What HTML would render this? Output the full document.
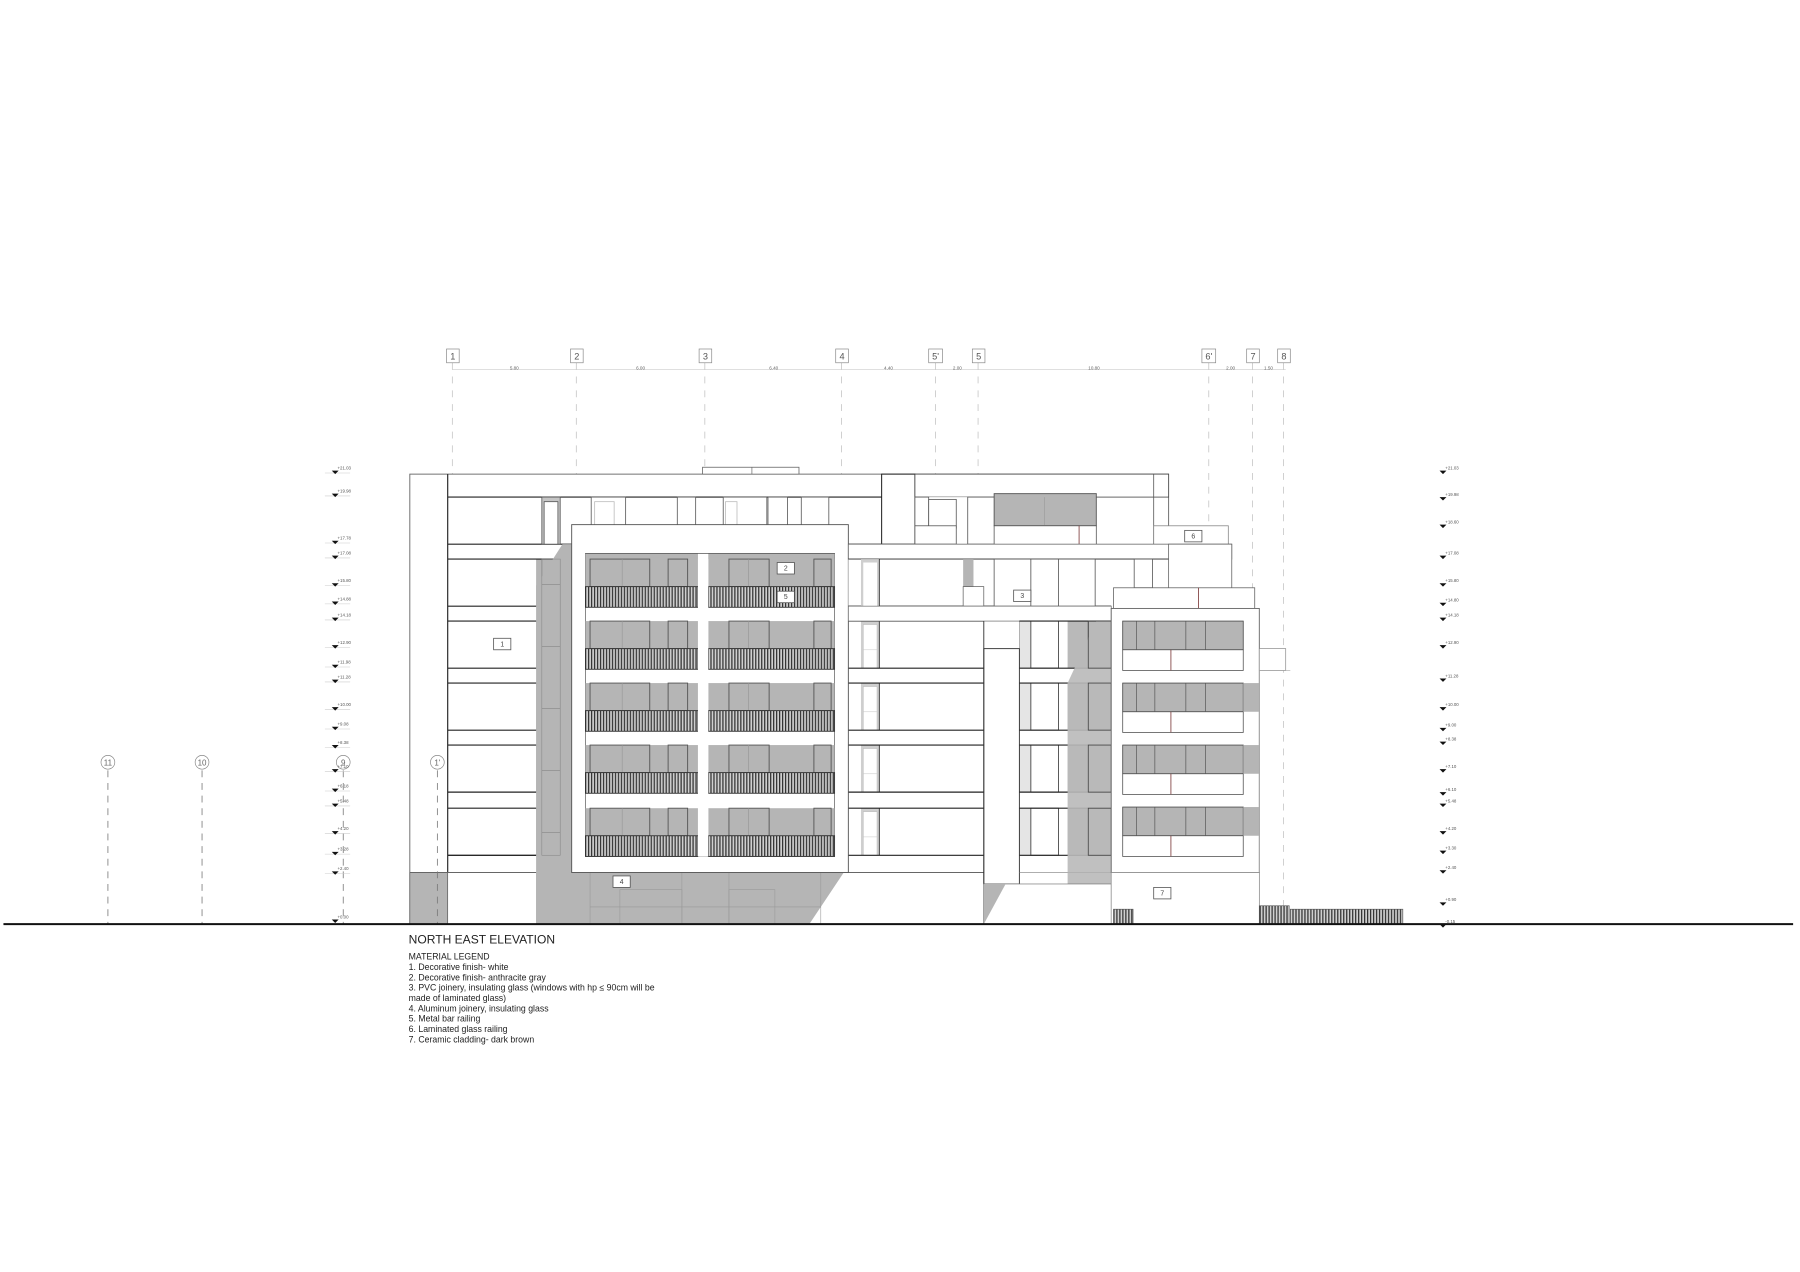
<!DOCTYPE html>
<html><head><meta charset="utf-8"><style>
html,body{margin:0;padding:0;background:#fff;}
svg{display:block;}
text{font-family:"Liberation Sans",sans-serif;}
</style></head><body>
<svg width="1800" height="1272" viewBox="0 0 1568 1108" preserveAspectRatio="none" xmlns="http://www.w3.org/2000/svg">
<defs>
<pattern id="hatch" width="2.6" height="10" patternUnits="userSpaceOnUse">
<rect width="2.6" height="10" fill="#cfcfcf"/><rect width="1.1" height="10" fill="#333"/>
</pattern>
<g id="crow">
<rect x="510" y="0" width="217" height="42" fill="#b5b5b5"/>
<rect x="608" y="0" width="9" height="42" fill="#fff"/>
<rect x="514" y="0" width="52" height="24" fill="none" stroke="#555" stroke-width="0.8"/>
<line x1="542" y1="0" x2="542" y2="24" stroke="#999" stroke-width="0.6"/>
<rect x="582" y="0" width="17" height="24" fill="none" stroke="#555" stroke-width="0.8"/>
<rect x="635" y="0" width="35" height="24" fill="none" stroke="#555" stroke-width="0.8"/>
<line x1="652" y1="0" x2="652" y2="24" stroke="#999" stroke-width="0.6"/>
<rect x="709" y="0" width="15" height="24" fill="none" stroke="#555" stroke-width="0.8"/>
<rect x="510" y="24" width="98" height="18" fill="url(#hatch)" stroke="#333" stroke-width="0.8"/>
<rect x="617" y="24" width="110" height="18" fill="url(#hatch)" stroke="#333" stroke-width="0.8"/>
</g>
<g id="lrow">
<rect x="467" y="0" width="31" height="41" fill="#b5b5b5"/>
<rect x="472" y="0" width="16" height="41" fill="none" stroke="#777" stroke-width="0.6"/>
<line x1="472" y1="20" x2="488" y2="20" stroke="#888" stroke-width="0.5"/>
<line x1="390" y1="0" x2="498" y2="0" stroke="#222" stroke-width="1"/>
<line x1="390" y1="41" x2="498" y2="41" stroke="#222" stroke-width="1"/>
<rect x="750" y="0" width="16" height="41" fill="#cfcfcf"/>
<rect x="752" y="3" width="12" height="38" fill="#fff" stroke="#bbb" stroke-width="0.5"/>
<line x1="752" y1="25" x2="764" y2="25" stroke="#ccc" stroke-width="0.5"/>
<line x1="766" y1="0" x2="766" y2="41" stroke="#333" stroke-width="0.8"/>
<line x1="739" y1="0" x2="857" y2="0" stroke="#222" stroke-width="1"/>
<line x1="739" y1="41" x2="857" y2="41" stroke="#222" stroke-width="1"/>
</g>
<g id="rrow">
<rect x="888" y="0" width="80" height="41" fill="#fff"/>
<rect x="930" y="0" width="38" height="41" fill="#b9b9b9"/>
<rect x="888" y="0" width="10" height="41" fill="#e5e5e5" stroke="#888" stroke-width="0.5"/>
<rect x="898" y="0" width="24" height="41" fill="#fff" stroke="#333" stroke-width="0.7"/>
<rect x="948" y="0" width="20" height="41" fill="none" stroke="#444" stroke-width="0.7"/>
<line x1="888" y1="0" x2="968" y2="0" stroke="#222" stroke-width="1"/>
<line x1="888" y1="41" x2="968" y2="41" stroke="#222" stroke-width="1"/>
</g>
<g id="brow">
<rect x="978" y="0" width="105" height="25" fill="#b5b5b5" stroke="#444" stroke-width="0.7"/>
<line x1="990" y1="0" x2="990" y2="25" stroke="#555" stroke-width="0.6"/>
<line x1="1006" y1="0" x2="1006" y2="25" stroke="#555" stroke-width="0.6"/>
<line x1="1033" y1="0" x2="1033" y2="25" stroke="#555" stroke-width="0.6"/>
<line x1="1050" y1="0" x2="1050" y2="25" stroke="#555" stroke-width="0.6"/>
<rect x="978" y="25" width="105" height="18" fill="#fff" stroke="#555" stroke-width="0.7"/>
<line x1="1020" y1="25" x2="1020" y2="43" stroke="#733" stroke-width="0.7"/>
</g>
</defs>

<rect width="1568" height="1108" fill="#fff"/>

<g stroke="#bbb" stroke-width="0.6" stroke-dasharray="6,6">
<line x1="394" y1="316" x2="394" y2="805"/><line x1="502" y1="316" x2="502" y2="805"/>
<line x1="614" y1="316" x2="614" y2="805"/><line x1="733" y1="316" x2="733" y2="805"/>
<line x1="815" y1="316" x2="815" y2="805"/><line x1="852" y1="316" x2="852" y2="805"/>
<line x1="1053" y1="316" x2="1053" y2="805"/><line x1="1091" y1="316" x2="1091" y2="805"/>
<line x1="1118" y1="316" x2="1118" y2="805"/>
</g>
<g stroke="#777" stroke-width="0.7" stroke-dasharray="6,5">
<line x1="94" y1="671" x2="94" y2="805"/><line x1="176" y1="671" x2="176" y2="805"/>
<line x1="299" y1="671" x2="299" y2="805"/>
</g>
<line x1="394" y1="322" x2="1120" y2="322" stroke="#ccc" stroke-width="0.5"/>
<g font-size="4" fill="#666" text-anchor="middle">
<text x="448" y="322">5.80</text><text x="558" y="322">6.00</text><text x="674" y="322">6.40</text>
<text x="774" y="322">4.40</text><text x="834" y="322">2.00</text><text x="953" y="322">10.80</text>
<text x="1072" y="322">2.00</text><text x="1105" y="322">1.50</text>
</g>
<g font-size="8" fill="#555" text-anchor="middle" stroke="#888" stroke-width="0.6">
<rect x="389" y="304" width="11" height="12" fill="#fff"/><rect x="497" y="304" width="11" height="12" fill="#fff"/>
<rect x="609" y="304" width="11" height="12" fill="#fff"/><rect x="728" y="304" width="11" height="12" fill="#fff"/>
<rect x="809" y="304" width="12" height="12" fill="#fff"/><rect x="847" y="304" width="11" height="12" fill="#fff"/>
<rect x="1047" y="304" width="12" height="12" fill="#fff"/><rect x="1086" y="304" width="11" height="12" fill="#fff"/>
<rect x="1113" y="304" width="11" height="12" fill="#fff"/>
</g>
<g font-size="8" fill="#555" text-anchor="middle">
<text x="394.5" y="313">1</text><text x="502.5" y="313">2</text><text x="614.5" y="313">3</text><text x="733.5" y="313">4</text>
<text x="815" y="313">5'</text><text x="852.5" y="313">5</text><text x="1053" y="313">6'</text><text x="1091.5" y="313">7</text><text x="1118.5" y="313">8</text>
</g>
<g fill="#fff" stroke="#888" stroke-width="0.6">
<circle cx="94" cy="664" r="6"/><circle cx="176" cy="664" r="6"/><circle cx="299" cy="664" r="6"/>
</g>
<g font-size="7" fill="#666" text-anchor="middle">
<text x="94" y="667">11</text><text x="176" y="667">10</text><text x="299" y="667">9</text>
</g>

<rect x="357" y="413" width="661" height="392" fill="#fff" stroke="#666" stroke-width="0.8"/>
<rect x="612" y="407" width="84" height="6" fill="#fff" stroke="#666" stroke-width="0.7"/>
<line x1="655" y1="407" x2="655" y2="413" stroke="#666" stroke-width="0.6"/>
<line x1="390" y1="413" x2="390" y2="760" stroke="#222" stroke-width="1"/>
<rect x="357" y="760" width="33" height="45" fill="#b5b5b5" stroke="#555" stroke-width="0.6"/>
<line x1="357" y1="760" x2="1097" y2="760" stroke="#666" stroke-width="0.8"/>

<line x1="390" y1="433" x2="768" y2="433" stroke="#222" stroke-width="1"/>
<line x1="390" y1="474" x2="768" y2="474" stroke="#222" stroke-width="1"/>
<rect x="768" y="413" width="29" height="61" fill="#fff" stroke="#222" stroke-width="0.9"/>
<g stroke="#555" stroke-width="0.7">
<rect x="472" y="433" width="16" height="41" fill="#c5c5c5"/><rect x="474" y="437" width="12" height="37" fill="#fff"/>
<rect x="515" y="433" width="30" height="41" fill="#fff"/><rect x="518" y="437" width="17" height="25" fill="#fff" stroke="#bbb"/>
<rect x="590" y="433" width="16" height="41" fill="#fff"/>
<rect x="630" y="433" width="38" height="41" fill="#fff"/><rect x="632" y="437" width="10" height="25" fill="#fff" stroke="#bbb"/>
<rect x="669" y="433" width="17" height="41" fill="#fff"/>
<rect x="698" y="433" width="24" height="41" fill="#fff"/>
</g>

<use href="#lrow" y="487"/><use href="#lrow" y="541"/><use href="#lrow" y="595"/><use href="#lrow" y="649"/><use href="#lrow" y="704"/>
<line x1="390" y1="745" x2="498" y2="745" stroke="#222" stroke-width="1"/>
<polygon points="467,760 467,510 490,474 498,474 498,805 467,805" fill="#b5b5b5"/>
<rect x="472" y="487" width="16" height="258" fill="none" stroke="#888" stroke-width="0.5"/>
<line x1="472" y1="509" x2="488" y2="509" stroke="#888" stroke-width="0.5"/>
<line x1="472" y1="563" x2="488" y2="563" stroke="#888" stroke-width="0.5"/>
<line x1="472" y1="617" x2="488" y2="617" stroke="#888" stroke-width="0.5"/>
<line x1="472" y1="671" x2="488" y2="671" stroke="#888" stroke-width="0.5"/>
<line x1="472" y1="725" x2="488" y2="725" stroke="#888" stroke-width="0.5"/>

<polygon points="467,760 735,760 705,805 467,805" fill="#b5b5b5"/>
<g stroke="#999" stroke-width="0.5" fill="none">
<rect x="514" y="760" width="80" height="45"/><rect x="540" y="775" width="54" height="30"/>
<rect x="635" y="760" width="80" height="45"/><rect x="635" y="775" width="40" height="30"/>
<line x1="514" y1="790" x2="715" y2="790"/>
</g>

<rect x="498" y="457" width="241" height="303" fill="#fff" stroke="#555" stroke-width="0.8"/>
<rect x="510" y="482" width="217" height="264" fill="#fff" stroke="#555" stroke-width="0.6"/>
<rect x="510" y="482" width="217" height="29" fill="#b5b5b5"/>
<use href="#crow" y="487"/>
<use href="#crow" y="541"/><use href="#crow" y="595"/><use href="#crow" y="649"/><use href="#crow" y="704"/>
<rect x="608" y="482" width="9" height="264" fill="#fff"/>
<line x1="510" y1="482" x2="727" y2="482" stroke="#555" stroke-width="0.7"/>

<rect x="797" y="413" width="221" height="20" fill="#fff" stroke="#444" stroke-width="0.7"/>
<line x1="1005" y1="413" x2="1005" y2="474" stroke="#555" stroke-width="0.7"/>
<rect x="797" y="433" width="70" height="41" fill="#fff"/>
<g stroke="#555" stroke-width="0.7" fill="#fff">
<rect x="797" y="433" width="12" height="41"/>
<rect x="809" y="435" width="24" height="25"/>
<rect x="797" y="458" width="36" height="16"/>
<rect x="843" y="433" width="24" height="41"/>
</g>
<rect x="866" y="430" width="89" height="28" fill="#b5b5b5" stroke="#555" stroke-width="0.8"/>
<line x1="910" y1="433" x2="910" y2="458" stroke="#999" stroke-width="0.5"/>
<rect x="866" y="458" width="89" height="18" fill="#fff" stroke="#555" stroke-width="0.7"/>
<line x1="940" y1="458" x2="940" y2="476" stroke="#733" stroke-width="0.7"/>
<rect x="1005" y="458" width="65" height="18" fill="#fff" stroke="#888" stroke-width="0.7"/>
<rect x="739" y="474" width="334" height="13" fill="#fff" stroke="#666" stroke-width="0.7"/>
<rect x="739" y="487" width="334" height="41" fill="#fff"/>
<line x1="739" y1="487" x2="1073" y2="487" stroke="#333" stroke-width="0.8"/>
<line x1="739" y1="528" x2="968" y2="528" stroke="#222" stroke-width="1"/>
<rect x="750" y="487" width="16" height="41" fill="#cfcfcf"/><rect x="752" y="490" width="12" height="38" fill="#fff"/>
<line x1="766" y1="487" x2="766" y2="528" stroke="#333" stroke-width="0.8"/>
<rect x="839" y="487" width="9" height="25" fill="#b5b5b5"/>
<rect x="839" y="511" width="18" height="17" fill="#fff" stroke="#555" stroke-width="0.6"/>
<g stroke="#555" stroke-width="0.7" fill="#fff">
<rect x="866" y="487" width="32" height="41"/><rect x="898" y="487" width="24" height="41"/>
<rect x="922" y="487" width="32" height="41"/><rect x="988" y="487" width="16" height="25"/>
</g>
<rect x="1018" y="474" width="55" height="54" fill="#fff" stroke="#666" stroke-width="0.7"/>
<rect x="739" y="528" width="229" height="13" fill="#fff" stroke="#666" stroke-width="0.6"/>
<rect x="888" y="541" width="80" height="219" fill="#fff"/>
<use href="#rrow" y="541"/><use href="#rrow" y="595"/><use href="#rrow" y="649"/><use href="#rrow" y="704"/>
<polygon points="930,595 955,541 968,541 968,770 930,770" fill="#b9b9b9" opacity="0.9"/>
<g stroke="#444" stroke-width="0.7" fill="none">
<rect x="948" y="541" width="20" height="41"/><rect x="948" y="595" width="20" height="41"/>
<rect x="948" y="649" width="20" height="41"/><rect x="948" y="704" width="20" height="41"/>
</g>
<rect x="857" y="565" width="31" height="205" fill="#fff" stroke="#333" stroke-width="0.8"/>
<line x1="857" y1="541" x2="857" y2="805" stroke="#333" stroke-width="0.8"/>
<rect x="857" y="770" width="111" height="35" fill="#fff" stroke="#777" stroke-width="0.6"/>
<polygon points="857,770 876,770 857,805" fill="#b5b5b5"/>
<line x1="888" y1="760" x2="968" y2="760" stroke="#aaa" stroke-width="0.5"/>

<rect x="970" y="512" width="123" height="18" fill="#fff" stroke="#666" stroke-width="0.7"/>
<line x1="1044" y1="512" x2="1044" y2="530" stroke="#733" stroke-width="0.7"/>
<rect x="968" y="530" width="129" height="230" fill="#fff" stroke="#666" stroke-width="0.8"/>
<use href="#brow" y="541"/><use href="#brow" y="595"/><use href="#brow" y="649"/><use href="#brow" y="703"/>
<rect x="1083" y="595" width="14" height="25" fill="#b5b5b5"/>
<rect x="1083" y="649" width="14" height="25" fill="#b5b5b5"/>
<rect x="1083" y="703" width="14" height="25" fill="#b5b5b5"/>
<rect x="1097" y="565" width="23" height="19" fill="#fff" stroke="#888" stroke-width="0.6"/>
<line x1="1097" y1="584" x2="1097" y2="805" stroke="#aaa" stroke-width="0.6"/>
<line x1="1097" y1="584" x2="1124" y2="584" stroke="#aaa" stroke-width="0.6"/>
<rect x="968" y="760" width="129" height="45" fill="#fff" stroke="#888" stroke-width="0.6"/>

<rect x="970" y="792" width="17" height="13" fill="url(#hatch)" stroke="#555" stroke-width="0.6"/>
<rect x="1097" y="789" width="26" height="16" fill="url(#hatch)" stroke="#555" stroke-width="0.6"/>
<rect x="1124" y="792" width="98" height="13" fill="url(#hatch)" stroke="#555" stroke-width="0.6"/>

<!-- 1' axis on top of pier -->
<line x1="381" y1="671" x2="381" y2="805" stroke="#777" stroke-width="0.7" stroke-dasharray="6,5"/>
<circle cx="381" cy="664" r="6" fill="#fff" stroke="#888" stroke-width="0.6"/>
<text x="381" y="667" font-size="7" fill="#666" text-anchor="middle">1'</text>

<g fill="#fff" stroke="#555" stroke-width="0.7">
<rect x="430" y="556" width="15" height="10"/><rect x="677" y="490" width="15" height="10"/>
<rect x="677" y="515" width="15" height="10"/><rect x="883" y="514" width="15" height="10"/>
<rect x="534" y="763" width="15" height="10"/><rect x="1032" y="462" width="15" height="10"/>
<rect x="1005" y="773" width="15" height="10"/>
</g>
<g font-size="6" fill="#444" text-anchor="middle">
<text x="437.5" y="563">1</text><text x="684.5" y="497">2</text><text x="684.5" y="522">5</text>
<text x="890.5" y="521">3</text><text x="541.5" y="770">4</text><text x="1039.5" y="469">6</text><text x="1012.5" y="780">7</text>
</g>

<line x1="3" y1="805" x2="1562" y2="805" stroke="#111" stroke-width="1.8"/>

<g stroke="#ccc" stroke-width="0.5">
<line x1="283" y1="412" x2="305" y2="412"/><line x1="283" y1="432" x2="305" y2="432"/><line x1="283" y1="473" x2="305" y2="473"/>
<line x1="283" y1="486" x2="305" y2="486"/><line x1="283" y1="510" x2="305" y2="510"/><line x1="283" y1="526" x2="305" y2="526"/>
<line x1="283" y1="540" x2="305" y2="540"/><line x1="283" y1="564" x2="305" y2="564"/><line x1="283" y1="581" x2="305" y2="581"/>
<line x1="283" y1="594" x2="305" y2="594"/><line x1="283" y1="618" x2="305" y2="618"/><line x1="283" y1="635" x2="305" y2="635"/>
<line x1="283" y1="651" x2="305" y2="651"/><line x1="283" y1="672" x2="305" y2="672"/><line x1="283" y1="689" x2="305" y2="689"/>
<line x1="283" y1="702" x2="305" y2="702"/><line x1="283" y1="726" x2="305" y2="726"/><line x1="283" y1="744" x2="305" y2="744"/>
<line x1="283" y1="761" x2="305" y2="761"/>
</g>
<g fill="#111">
<path d="M289,410h6l-3,3z M289,430h6l-3,3z M289,471h6l-3,3z M289,484h6l-3,3z M289,508h6l-3,3z M289,524h6l-3,3z M289,538h6l-3,3z M289,562h6l-3,3z M289,579h6l-3,3z M289,592h6l-3,3z M289,616h6l-3,3z M289,633h6l-3,3z M289,649h6l-3,3z M289,670h6l-3,3z M289,687h6l-3,3z M289,700h6l-3,3z M289,724h6l-3,3z M289,742h6l-3,3z M289,759h6l-3,3z M289,801h6l-3,3z"/>
<path d="M1254,410h6l-3,3z M1254,433h6l-3,3z M1254,457h6l-3,3z M1254,484h6l-3,3z M1254,508h6l-3,3z M1254,525h6l-3,3z M1254,538h6l-3,3z M1254,562h6l-3,3z M1254,591h6l-3,3z M1254,616h6l-3,3z M1254,634h6l-3,3z M1254,646h6l-3,3z M1254,670h6l-3,3z M1254,690h6l-3,3z M1254,700h6l-3,3z M1254,724h6l-3,3z M1254,741h6l-3,3z M1254,758h6l-3,3z M1254,786h6l-3,3z M1254,805h6l-3,3z"/>
</g>
<g font-size="3.8" fill="#555">
<text x="294" y="409">+21.03</text><text x="294" y="429">+19.98</text><text x="294" y="470">+17.78</text><text x="294" y="483">+17.08</text>
<text x="294" y="507">+15.80</text><text x="294" y="523">+14.88</text><text x="294" y="537">+14.18</text><text x="294" y="561">+12.90</text>
<text x="294" y="578">+11.98</text><text x="294" y="591">+11.28</text><text x="294" y="615">+10.00</text><text x="294" y="632">+9.08</text>
<text x="294" y="648">+8.38</text><text x="294" y="669">+7.10</text><text x="294" y="686">+6.18</text><text x="294" y="699">+5.48</text>
<text x="294" y="723">+4.20</text><text x="294" y="741">+3.28</text><text x="294" y="758">+2.40</text><text x="294" y="800">+0.00</text>
<text x="1259" y="409">+21.03</text><text x="1259" y="432">+19.98</text><text x="1259" y="456">+18.60</text><text x="1259" y="483">+17.08</text>
<text x="1259" y="507">+15.80</text><text x="1259" y="524">+14.80</text><text x="1259" y="537">+14.18</text><text x="1259" y="561">+12.90</text>
<text x="1259" y="590">+11.28</text><text x="1259" y="615">+10.00</text><text x="1259" y="633">+9.00</text><text x="1259" y="645">+8.38</text>
<text x="1259" y="669">+7.10</text><text x="1259" y="689">+6.10</text><text x="1259" y="699">+5.48</text><text x="1259" y="723">+4.20</text>
<text x="1259" y="740">+3.30</text><text x="1259" y="757">+2.40</text><text x="1259" y="785">+0.90</text><text x="1259" y="804">-0.15</text>
</g>

<text x="356" y="822" font-size="10.5" fill="#222">NORTH EAST ELEVATION</text>
<g font-size="7.6" fill="#222">
<text x="356" y="836">MATERIAL LEGEND</text>
<text x="356" y="845">1. Decorative finish- white</text>
<text x="356" y="854">2. Decorative finish- anthracite gray</text>
<text x="356" y="863">3. PVC joinery, insulating glass (windows with hp ≤ 90cm will be</text>
<text x="356" y="872">made of laminated glass)</text>
<text x="356" y="881">4. Aluminum joinery, insulating glass</text>
<text x="356" y="890">5. Metal bar railing</text>
<text x="356" y="899">6. Laminated glass railing</text>
<text x="356" y="908">7. Ceramic cladding- dark brown</text>
</g>
</svg>
</body></html>
